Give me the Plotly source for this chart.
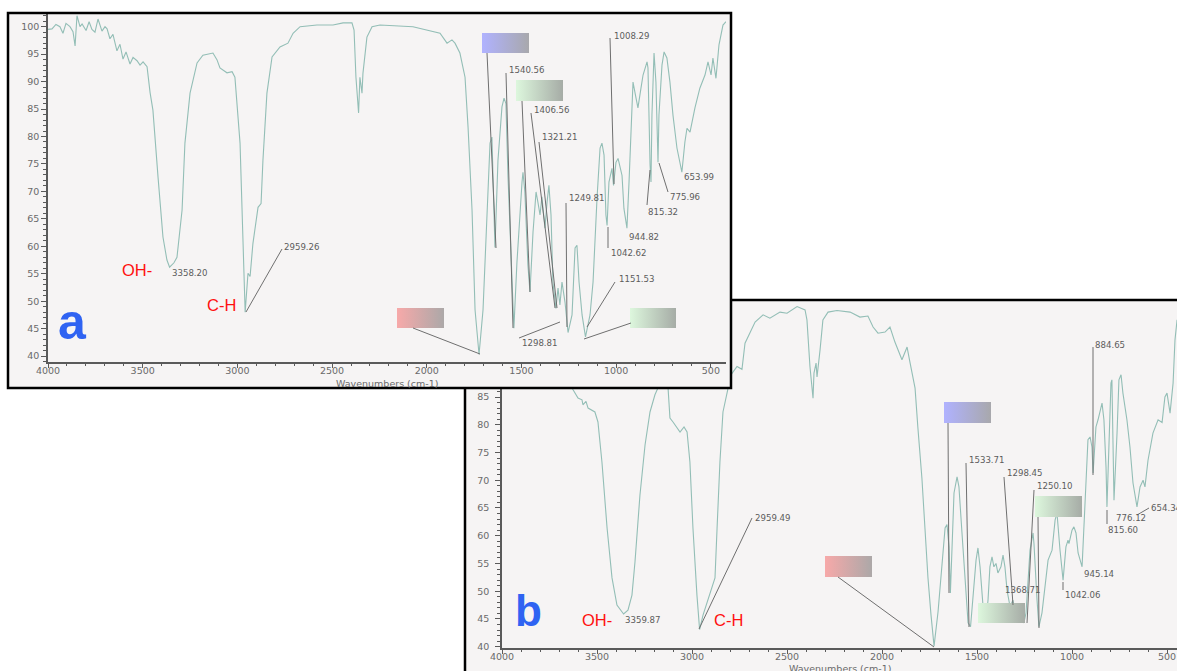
import plotly.graph_objects as go

# ---------------- data ----------------
a_wavenumber = [4000, 3979, 3958, 3937, 3921, 3905, 3884, 3868, 3857, 3847, 3831, 3820, 3799, 3783, 3768,
                3752, 3736, 3715, 3699, 3688, 3673, 3657, 3636, 3620, 3604, 3588, 3567, 3551, 3530, 3514,
                3498, 3477, 3461, 3446, 3419, 3393, 3372, 3358, 3335, 3319, 3292, 3277, 3250, 3213, 3182,
                3129, 3108, 3092, 3055, 3028, 3013, 2986, 2970, 2959, 2944, 2933, 2918, 2891, 2875, 2865,
                2844, 2817, 2775, 2733, 2706, 2669, 2580, 2495, 2442, 2395, 2384, 2374, 2360, 2353, 2342,
                2337, 2316, 2289, 2247, 2073, 1930, 1893, 1867, 1851, 1825, 1798, 1782, 1761, 1745, 1724,
                1703, 1682, 1666, 1656, 1650, 1640, 1624, 1603, 1592, 1582, 1571, 1550, 1540, 1524, 1508,
                1497, 1492, 1482, 1466, 1455, 1439, 1423, 1413, 1402, 1392, 1386, 1376, 1365, 1355, 1344,
                1334, 1318, 1307, 1297, 1286, 1270, 1254, 1233, 1217, 1207, 1196, 1180, 1162, 1138, 1122,
                1101, 1085, 1075, 1064, 1054, 1048, 1038, 1022, 1014, 1001, 990, 969, 959, 943, 932,
                916, 911, 895, 885, 869, 858, 837, 832, 821, 816, 811, 800, 790, 779, 774,
                758, 747, 732, 716, 700, 679, 653, 637, 626, 610, 584, 558, 531, 515, 499,
                489, 473, 457, 436, 420]
a_transmittance = [99.5, 99.6, 100.4, 100.0, 98.8, 100.6, 100.0, 99.1, 96.5, 102.0, 100.0, 100.5, 99.3, 100.9, 99.5,
                   99.0, 101.4, 99.2, 100.0, 99.6, 97.8, 98.6, 95.6, 96.8, 94.1, 95.4, 93.2, 94.4, 93.8, 93.0,
                   93.6, 92.7, 88.0, 84.8, 72.6, 61.7, 57.5, 56.2, 57.0, 58.0, 66.6, 78.8, 87.9, 93.4, 94.8,
                   95.2, 94.0, 92.5, 91.6, 91.8, 90.8, 78.8, 60.5, 48.0, 55.1, 54.5, 60.5, 67.1, 67.8, 75.7,
                   87.9, 94.5, 96.3, 97.0, 98.8, 100.0, 100.3, 100.3, 100.7, 100.7, 99.4, 90.8, 84.3, 90.8, 87.9,
                   91.5, 98.1, 100.0, 100.3, 100.0, 98.8, 97.0, 97.6, 97.0, 95.2, 90.8, 81.7, 66.6, 48.4, 40.3,
                   48.4, 66.6, 78.8, 79.9, 72.6, 59.8, 75.7, 85.4, 87.0, 86.0, 72.6, 54.4, 45.1, 57.0, 66.6,
                   71.7, 73.5, 69.9, 56.6, 51.7, 62.6, 69.9, 68.0, 65.7, 69.0, 67.0, 63.3, 68.0, 71.1, 65.7,
                   53.5, 48.7, 52.4, 49.3, 53.5, 49.8, 44.3, 47.5, 59.7, 60.2, 53.5, 47.5, 43.5, 47.5, 53.5,
                   68.8, 77.9, 78.8, 76.6, 65.7, 63.8, 71.7, 74.2, 71.1, 75.3, 76.0, 72.9, 66.9, 63.3, 71.7,
                   83.9, 89.9, 87.0, 85.2, 88.8, 91.2, 93.6, 92.5, 74.8, 71.7, 83.9, 95.2, 89.9, 75.3, 83.9,
                   93.0, 95.4, 94.3, 89.9, 83.9, 77.9, 73.5, 79.0, 81.5, 80.8, 85.2, 88.8, 91.2, 93.6, 91.2,
                   94.3, 90.6, 96.7, 100.3, 100.9]

b_wavenumber = [4000, 3950, 3905, 3850, 3800, 3760, 3721, 3668, 3626, 3600, 3579, 3574, 3558, 3547, 3511,
                3495, 3474, 3447, 3421, 3395, 3360, 3337, 3316, 3300, 3274, 3247, 3221, 3195, 3168, 3145,
                3126, 3116, 3100, 3079, 3063, 3042, 3026, 3011, 2995, 2974, 2960, 2942, 2921, 2895, 2879,
                2868, 2853, 2837, 2816, 2795, 2763, 2737, 2721, 2668, 2626, 2590, 2537, 2500, 2447, 2405,
                2395, 2379, 2363, 2358, 2347, 2342, 2326, 2311, 2284, 2237, 2168, 2116, 2074, 2047, 2021,
                1984, 1958, 1932, 1895, 1868, 1853, 1826, 1811, 1790, 1774, 1758, 1742, 1726, 1705, 1684,
                1668, 1658, 1647, 1640, 1632, 1621, 1605, 1595, 1579, 1563, 1547, 1534, 1521, 1505, 1495,
                1484, 1468, 1453, 1442, 1432, 1421, 1411, 1400, 1390, 1374, 1363, 1353, 1342, 1326, 1311,
                1300, 1284, 1263, 1253, 1242, 1232, 1221, 1205, 1200, 1184, 1174, 1158, 1142, 1126, 1105,
                1089, 1079, 1074, 1063, 1047, 1032, 1021, 1016, 1000, 990, 979, 968, 947, 932, 916,
                905, 895, 889, 874, 863, 842, 832, 821, 816, 805, 795, 790, 784, 779, 763,
                753, 742, 732, 711, 695, 679, 658, 642, 626, 616, 600, 574, 547, 526, 511,
                500, 484, 468, 458, 447]
b_transmittance = [99.0, 99.5, 98.5, 99.2, 97.0, 95.5, 93.0, 89.0, 86.3, 84.8, 84.5, 83.6, 84.2, 83.0, 82.3,
                   80.5, 73.3, 61.4, 52.4, 47.5, 45.9, 46.6, 49.3, 55.3, 67.3, 76.4, 82.3, 85.4, 87.5, 90.5,
                   86.6, 81.2, 80.5, 79.4, 78.7, 79.6, 78.7, 73.3, 61.4, 49.3, 43.1, 45.7, 48.0, 50.6, 52.4,
                   61.4, 73.3, 82.3, 85.5, 89.0, 90.5, 90.0, 94.7, 98.5, 99.8, 99.2, 100.3, 100.1, 101.3, 100.7,
                   98.9, 90.4, 84.8, 89.3, 91.1, 88.6, 93.5, 98.9, 100.3, 100.6, 100.3, 99.4, 99.6, 97.6, 96.5,
                   96.7, 97.6, 94.9, 91.7, 94.0, 91.3, 86.6, 79.4, 70.4, 61.4, 52.4, 45.7, 40.1, 46.3, 55.3,
                   61.4, 62.0, 58.0, 49.7, 56.9, 67.7, 70.6, 68.8, 60.5, 51.5, 44.3, 43.6, 48.4, 55.6, 57.8,
                   54.4, 47.2, 44.8, 48.4, 54.4, 56.2, 54.4, 55.0, 53.3, 54.4, 56.5, 54.4, 50.2, 47.2, 48.4,
                   46.1, 46.6, 44.8, 44.3, 46.1, 51.5, 57.4, 60.5, 58.5, 48.4, 43.6, 46.1, 51.5, 55.6, 57.4,
                   62.8, 64.1, 61.6, 57.4, 52.0, 58.0, 59.2, 58.6, 61.0, 61.6, 60.5, 56.9, 54.4, 66.4, 77.3,
                   77.8, 76.0, 71.3, 79.6, 80.9, 83.9, 80.9, 72.4, 65.2, 78.5, 87.5, 88.1, 78.5, 66.4, 78.5,
                   88.1, 89.0, 85.7, 80.9, 76.0, 69.5, 65.2, 68.8, 70.0, 68.8, 73.6, 78.5, 80.9, 80.4, 85.0,
                   85.7, 82.1, 87.5, 95.3, 98.9]

x_tick_values = [4000, 3500, 3000, 2500, 2000, 1500, 1000, 500]
x_tick_labels = ["4000", "3500", "3000", "2500", "2000", "1500", "1000", "500"]
y_tick_values = [40, 45, 50, 55, 60, 65, 70, 75, 80, 85, 90, 95, 100]
x_title = "Wavenumbers (cm-1)"

a_peak_labels = ["3358.20", "2959.26", "1540.56", "1406.56", "1321.21", "1298.81", "1249.81",
                 "1151.53", "1008.29", "1042.62", "944.82", "815.32", "775.96", "653.99"]
b_peak_labels = ["3359.87", "2959.49", "1533.71", "1298.45", "1250.10", "1368.71", "1042.06",
                 "945.14", "884.65", "815.60", "776.12", "654.34"]
band_labels = ["OH-", "C-H"]
panel_letters = ["a", "b"]

# ---------------- geometry / style ----------------
W, H = 1177, 671
BG = "#f6f4f4"
LINE = "#93beb6"
AXC = "#5a5a5a"
TXT = "#6a6a6a"


def fx(px):
    return px / W


def fy(py):
    return 1 - py / H


# panel a plot area (px) and ranges
A_X = (48, 726); A_XR = (4000, 420)
A_Y = (362, 14); A_YR = (38.93, 102.31)
# panel b plot area (px) and ranges
B_X = (502, 1177); B_XR = (4000, 447.4)
B_Y = (648, 303); B_YR = (39.77, 101.94)


def to_data(px, py, X, XR, Y, YR):
    v = XR[0] + (px - X[0]) / (X[1] - X[0]) * (XR[1] - XR[0])
    t = YR[0] + (py - Y[0]) / (Y[1] - Y[0]) * (YR[1] - YR[0])
    return v, t


def pa(px, py):
    return to_data(px, py, A_X, A_XR, A_Y, A_YR)


def pb(px, py):
    return to_data(px, py, B_X, B_XR, B_Y, B_YR)


fig = go.Figure()

# panel b spectrum (subplot xy, drawn first / lowest)
fig.add_trace(go.Scatter(x=b_wavenumber, y=b_transmittance, mode="lines",
                         line=dict(color=LINE, width=1.1), xaxis="x", yaxis="y",
                         hoverinfo="skip", showlegend=False))
# cover subplot: its background hides panel b under panel a's frame
fig.add_trace(go.Scatter(x=[None], y=[None], xaxis="x2", yaxis="y2", showlegend=False,
                         hoverinfo="skip"))
# panel a spectrum (subplot x3y3, on top)
fig.add_trace(go.Scatter(x=a_wavenumber, y=a_transmittance, mode="lines",
                         line=dict(color=LINE, width=1.1), xaxis="x3", yaxis="y3",
                         hoverinfo="skip", showlegend=False))


def grad_box(x0, y0, x1, y1, conv, xa, ya, c_left, c_right):
    v0, t0 = conv(x0, y0)
    v1, t1 = conv(x1, y1)
    fig.add_trace(go.Scatter(
        x=[v0, v1, v1, v0, v0], y=[t0, t0, t1, t1, t0], mode="lines",
        line=dict(width=0, color="rgba(0,0,0,0)"), fill="toself",
        fillgradient=dict(type="horizontal", start=v0, stop=v1,
                          colorscale=[[0, c_left], [1, c_right]]),
        xaxis=xa, yaxis=ya, hoverinfo="skip", showlegend=False))


BLUE = ("#b0b2ff", "#a8a8ac")
GREEN = ("#ddf7dd", "#a6aca6")
RED = ("#f7a9a9", "#aca8a8")

# panel a boxes
grad_box(482, 33, 529, 53, pa, "x3", "y3", *BLUE)
grad_box(516, 80, 563, 101, pa, "x3", "y3", *GREEN)
grad_box(397, 308, 444, 328, pa, "x3", "y3", *RED)
grad_box(630, 308, 676, 328, pa, "x3", "y3", *GREEN)
# panel b boxes
grad_box(944, 402, 991, 423, pb, "x", "y", *BLUE)
grad_box(1035, 496, 1082, 517, pb, "x", "y", *GREEN)
grad_box(825, 556, 872, 577, pb, "x", "y", *RED)
grad_box(978, 603, 1025, 623, pb, "x", "y", *GREEN)

tickfont = dict(family="DejaVu Sans", size=9.5, color=TXT)


def xaxis_cfg(dom, rng):
    return dict(domain=[fx(dom[0]), fx(dom[1])], range=list(rng), showgrid=False, zeroline=False,
                showline=True, linecolor=AXC, linewidth=1.5, ticks="outside", ticklen=4,
                tickwidth=1, tickcolor=AXC, tickvals=x_tick_values, ticktext=x_tick_labels,
                tickfont=tickfont, ticklabelstandoff=-5,
                minor=dict(ticks="outside", ticklen=2, tickcolor=AXC, dtick=100, tick0=0),
                automargin=False, fixedrange=True)


def yaxis_cfg(dom, rng, standoff):
    return dict(domain=[fy(dom[0]), fy(dom[1])], range=list(rng), showgrid=False, zeroline=False,
                showline=True, linecolor=AXC, linewidth=1.5, ticks="outside", ticklen=5,
                tickwidth=1, tickcolor=AXC, tickvals=y_tick_values, tickfont=tickfont,
                ticklabelstandoff=standoff,
                minor=dict(ticks="outside", ticklen=3, tickcolor=AXC, dtick=1, tick0=0),
                automargin=False, fixedrange=True)


layout = dict(
    width=W, height=H, autosize=False,
    margin=dict(l=0, r=0, t=0, b=0, pad=0),
    paper_bgcolor="white", plot_bgcolor=BG, showlegend=False,
    xaxis=dict(xaxis_cfg(B_X, B_XR), anchor="y"),
    yaxis=dict(yaxis_cfg(B_Y, B_YR, 4), anchor="x"),
    xaxis2=dict(domain=[fx(8), fx(731)], range=[0, 1], visible=False, anchor="y2", fixedrange=True),
    yaxis2=dict(domain=[fy(388), fy(13)], range=[0, 1], visible=False, anchor="x2", fixedrange=True),
    xaxis3=dict(xaxis_cfg(A_X, A_XR), anchor="y3"),
    yaxis3=dict(yaxis_cfg(A_Y, A_YR, 0), anchor="x3"),
)
fig.update_layout(**layout)

shapes = []
# panel b frame (beneath everything, extends past the page)
shapes.append(dict(type="rect", xref="paper", yref="paper", x0=fx(465), x1=fx(1200),
                   y0=fy(300), y1=fy(720), fillcolor=BG, line=dict(color="black", width=2.5),
                   layer="below"))
# panel a frame (on top)
shapes.append(dict(type="rect", xref="paper", yref="paper", x0=fx(8), x1=fx(731),
                   y0=fy(388), y1=fy(13), line=dict(color="black", width=2.5), layer="above"))

leaders = [
    # panel a
    (246, 312, 282, 249), (506, 73, 513, 328), (487, 53, 496, 248), (522, 101, 530, 292),
    (531, 113, 555, 308), (539, 142, 557, 308), (519, 338, 560, 322), (566, 203, 567, 327),
    (615, 282, 587, 327), (631, 323, 584, 339), (413, 328, 480, 354), (610, 38, 614, 184),
    (608, 248, 608, 227), (647, 205, 650, 170), (668, 192, 659, 163),
    # panel b
    (699, 629, 752, 518), (838, 577, 934, 647), (948, 423, 949, 593), (966, 463, 969, 627),
    (1004, 477, 1013, 605), (1034, 490, 1027, 623), (1038, 517, 1039, 628),
    (1063, 590, 1063, 582), (1093, 347, 1093, 475), (1137, 515, 1149, 508), (1107, 510, 1107, 524),
]
for x0, y0, x1, y1 in leaders:
    shapes.append(dict(type="line", xref="paper", yref="paper", x0=fx(x0), y0=fy(y0),
                       x1=fx(x1), y1=fy(y1), line=dict(color="#6f6f6f", width=1), layer="above"))
fig.update_layout(shapes=shapes)

peakfont = dict(family="DejaVu Sans", size=8.6, color="#5c5c5c")
a_label_pos = [(170, 273), (282, 247), (507, 70), (532, 110), (540, 137), (520, 343), (567, 198),
               (617, 279), (612, 36), (609, 253), (627, 237), (646, 212), (668, 197), (682, 177)]
b_label_pos = [(623, 620), (753, 518), (967, 460), (1005, 473), (1035, 486), (1003, 590),
               (1063, 595), (1082, 574), (1093, 345), (1106, 530), (1114, 518), (1149, 508)]
ann = []
for text, (px, py) in list(zip(a_peak_labels, a_label_pos)) + list(zip(b_peak_labels, b_label_pos)):
    ann.append(dict(text=text, xref="paper", yref="paper", x=fx(px), y=fy(py), xanchor="left",
                    yanchor="middle", showarrow=False, font=peakfont))

# axis titles
for (px, py) in [(387, 383), (840, 668)]:
    ann.append(dict(text=x_title, xref="paper", yref="paper", x=fx(px), y=fy(py), xanchor="center",
                    yanchor="middle", showarrow=False, font=tickfont))

redfont = dict(family="Liberation Sans", size=16.5, color="#ff1010")
for text, (px, py) in zip(band_labels * 2, [(137, 270), (221, 305), (597, 620), (728, 620)]):
    ann.append(dict(text=text, xref="paper", yref="paper", x=fx(px), y=fy(py), xanchor="center",
                    yanchor="middle", showarrow=False, font=redfont))

for text, (px, py), size in zip(panel_letters, [(72, 322), (528, 610)], [50, 44]):
    ann.append(dict(text=text, xref="paper", yref="paper", x=fx(px), y=fy(py), xanchor="center",
                    yanchor="middle", showarrow=False,
                    font=dict(family="Liberation Sans", size=size, color="#2f63f2", weight=900)))
fig.update_layout(annotations=ann)

fig.write_html("out.html")
